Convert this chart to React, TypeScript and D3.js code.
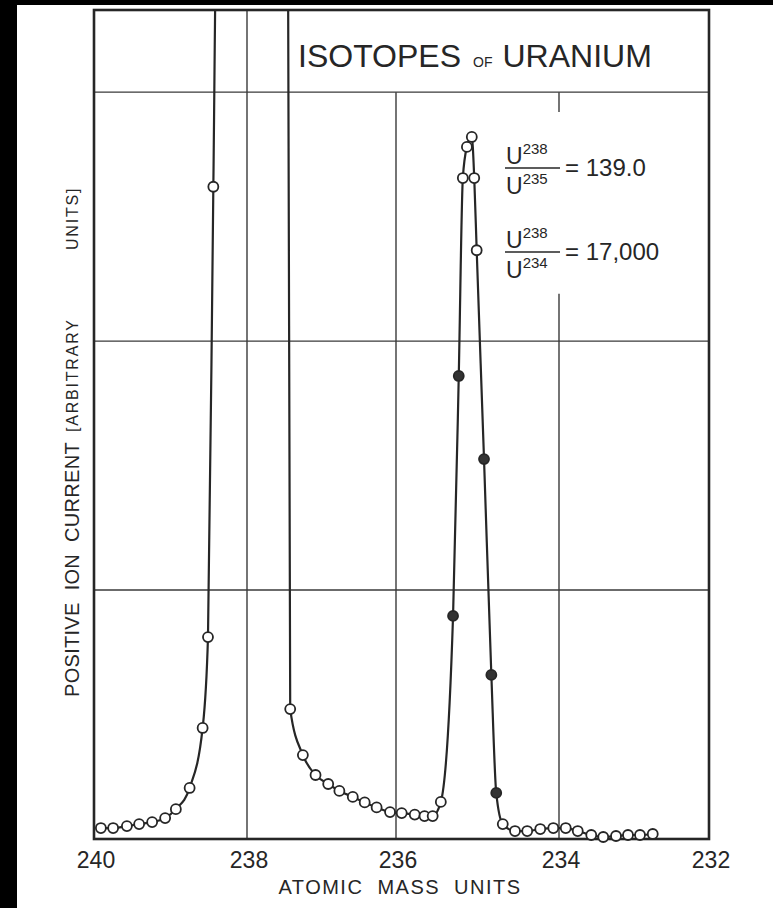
import React, { useRef, useEffect } from "react";
import * as d3 from "d3";

// atomic mass units (left to right)
const mass = [
  239.91, 239.75, 239.57, 239.41, 239.24, 239.07, 238.93, 238.75, 238.58, 238.51, 238.44,
  238.40, 237.45,
  237.42, 237.25, 237.08, 236.91, 236.76, 236.58, 236.42, 236.26, 236.08, 235.93, 235.77, 235.65, 235.55, 235.45,
  235.30, 235.23, 235.18, 235.13, 235.07, 235.04, 235.01, 234.92, 234.83, 234.77,
  234.69, 234.54, 234.39, 234.23, 234.07, 233.91, 233.75, 233.57, 233.41, 233.24, 233.08, 232.92, 232.75,
];
// positive ion current, arbitrary units (one unit = one grid square)
const current = [
  0.044, 0.044, 0.052, 0.060, 0.068, 0.084, 0.12, 0.205, 0.446, 0.811, 2.62,
  3.6, 3.6,
  0.522, 0.337, 0.257, 0.221, 0.193, 0.169, 0.147, 0.127, 0.108, 0.104, 0.098, 0.092, 0.092, 0.149,
  0.896, 1.86, 2.655, 2.78, 2.82, 2.655, 2.365, 1.526, 0.659, 0.185,
  0.060, 0.032, 0.032, 0.040, 0.044, 0.044, 0.032, 0.016, 0.008, 0.012, 0.016, 0.016, 0.020,
];
// o = open circle, f = filled circle, "" = no point (U238 peak is off scale)
const marker = [
  "o", "o", "o", "o", "o", "o", "o", "o", "o", "o", "o",
  "", "",
  "o", "o", "o", "o", "o", "o", "o", "o", "o", "o", "o", "o", "o", "o",
  "f", "f", "o", "o", "o", "o", "o", "f", "f", "f",
  "o", "o", "o", "o", "o", "o", "o", "o", "o", "o", "o", "o", "o",
];

const xTicks = [240, 238, 236, 234, 232];
const yGrid = [1, 2, 3];
const yMax = 3.33;

const ratioIsotopes = ["235", "234"];
const ratioValues = ["139.0", "17,000"];

const FONT = "'Liberation Sans', Arial, sans-serif";
const INK = "#262626";

const App = () => {
  const svgRef = useRef(null);

  useEffect(() => {
    const svg = d3.select(svgRef.current);
    svg.selectAll("*").remove();

    const W = 773, H = 908;
    const left = 94, right = 709, top = 10, bottom = 839;

    // hand drawn axis is slightly uneven, so map each major division
    const x = d3.scaleLinear().domain(xTicks).range([left, 247, 396, 559, right]);
    const y = d3.scaleLinear().domain([0, yMax]).range([bottom, top]);

    svg.append("rect").attr("width", W).attr("height", H).attr("fill", "#fff");
    // scan edges
    svg.append("rect").attr("width", W).attr("height", 5).attr("fill", "#000");
    svg.append("rect").attr("width", 17).attr("height", H).attr("fill", "#000");

    svg.append("clipPath").attr("id", "plotclip")
      .append("rect")
      .attr("x", left).attr("y", top)
      .attr("width", right - left).attr("height", bottom - top);

    /*** grid ***/
    const grid = svg.append("g").attr("stroke", "#3a3a3a").attr("stroke-width", 1.4);
    yGrid.forEach(v => {
      grid.append("line")
        .attr("x1", left).attr("x2", right)
        .attr("y1", y(v)).attr("y2", y(v));
    });
    // vertical lines: [mass, from, to] in current units
    const vSegs = [
      [238, 0, yMax],
      [236, 0, 3],
      [234, 0, 2.19],
      [234, 2.92, 3],
    ];
    vSegs.forEach(([m, a, b]) => {
      grid.append("line")
        .attr("x1", x(m)).attr("x2", x(m))
        .attr("y1", y(a)).attr("y2", y(b));
    });

    /*** frame ***/
    svg.append("rect")
      .attr("x", left).attr("y", top)
      .attr("width", right - left).attr("height", bottom - top)
      .attr("fill", "none").attr("stroke", INK).attr("stroke-width", 2.6);

    /*** curve ***/
    const pts = mass.map((m, i) => ({ m, c: current[i], k: marker[i] }));
    const line = d3.line()
      .x(d => x(d.m))
      .y(d => y(d.c))
      .curve(d3.curveMonotoneX);

    svg.append("path")
      .datum(pts)
      .attr("clip-path", "url(#plotclip)")
      .attr("fill", "none")
      .attr("stroke", INK)
      .attr("stroke-width", 2.2)
      .attr("d", line);

    svg.append("g")
      .selectAll("circle")
      .data(pts.filter(d => d.k !== ""))
      .enter().append("circle")
      .attr("cx", d => x(d.m))
      .attr("cy", d => y(d.c))
      .attr("r", 5)
      .attr("fill", d => (d.k === "f" ? "#333" : "#fff"))
      .attr("stroke", INK)
      .attr("stroke-width", 1.8);

    /*** x tick labels ***/
    svg.append("g")
      .selectAll("text")
      .data(xTicks)
      .enter().append("text")
      .attr("x", d => x(d) + 2)
      .attr("y", 868)
      .attr("text-anchor", "middle")
      .attr("font-family", FONT)
      .attr("font-size", 23)
      .attr("fill", INK)
      .text(d => d);

    const words = (sel, list, gap) => {
      list.forEach((w, i) => {
        sel.append("tspan").attr("dx", i === 0 ? 0 : gap).text(w);
      });
    };

    const xl = svg.append("text")
      .attr("x", 400).attr("y", 894)
      .attr("text-anchor", "middle")
      .attr("font-family", FONT)
      .attr("font-size", 20)
      .attr("letter-spacing", 1.5)
      .attr("fill", INK);
    words(xl, ["ATOMIC", "MASS", "UNITS"], 14);

    /*** y label ***/
    const yl = svg.append("text")
      .attr("transform", "translate(79,697) rotate(-90)")
      .attr("font-family", FONT)
      .attr("font-size", 20)
      .attr("letter-spacing", 0.3)
      .attr("fill", INK);
    words(yl, ["POSITIVE", "ION", "CURRENT"], 12);

    const yl2 = svg.append("g")
      .attr("font-family", FONT)
      .attr("font-size", 16)
      .attr("letter-spacing", 1.8)
      .attr("fill", INK);
    yl2.append("text").attr("transform", "translate(78,432) rotate(-90)").text("[ARBITRARY");
    yl2.append("text").attr("transform", "translate(78,250) rotate(-90)").text("UNITS]");

    /*** title ***/
    const title = svg.append("text")
      .attr("x", 298).attr("y", 67)
      .attr("font-family", FONT)
      .attr("fill", INK);
    title.append("tspan").attr("font-size", 32).text("ISOTOPES");
    title.append("tspan").attr("font-size", 14).attr("dx", 12).text("OF");
    title.append("tspan").attr("font-size", 32).attr("dx", 10).text("URANIUM");

    /*** abundance ratios ***/
    ratioIsotopes.forEach((iso, i) => {
      const cy = 168 + i * 84;
      const g = svg.append("g").attr("font-family", FONT).attr("fill", INK);
      const frac = (base, sup) => {
        const t = g.append("text").attr("x", 506).attr("y", base);
        t.append("tspan").attr("font-size", 23).text("U");
        t.append("tspan").attr("font-size", 15).attr("dy", -10).text(sup);
      };
      frac(cy - 4, "238");
      frac(cy + 26, iso);
      g.append("line")
        .attr("x1", 505).attr("x2", 560)
        .attr("y1", cy).attr("y2", cy)
        .attr("stroke", INK).attr("stroke-width", 1.6);
      g.append("text")
        .attr("x", 565).attr("y", cy + 8)
        .attr("font-size", 24)
        .text("= " + ratioValues[i]);
    });
  }, []);

  return (
    <svg
      ref={svgRef}
      width={773}
      height={908}
      style={{ position: "absolute", left: 0, top: 0, display: "block" }}
    />
  );
};

export default App;
